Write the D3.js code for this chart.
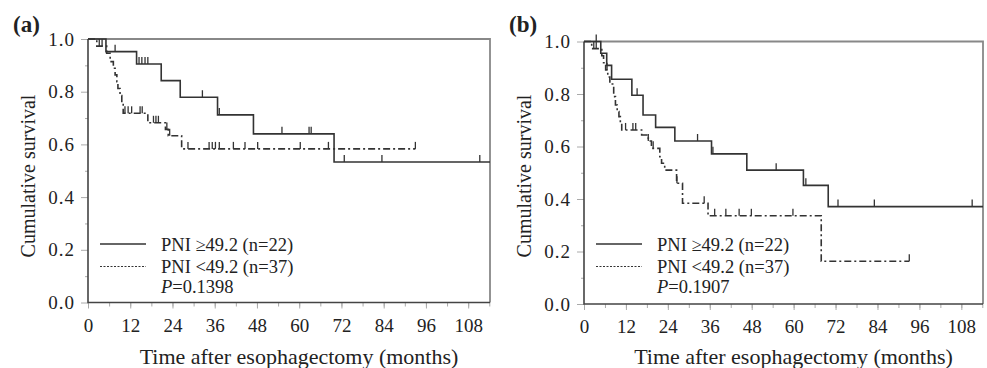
<!DOCTYPE html>
<html>
<head>
<meta charset="utf-8">
<script src="https://cdn.jsdelivr.net/npm/d3@7"></script>
<style>
body { margin: 0; background: #fff; }
text { font-family: "Liberation Serif", "Times New Roman", serif; fill: #222; }
</style>
</head>
<body>
<svg id="chart" width="987" height="368"></svg>
<script>
// Data ---------- ---------- ----------
let xTickLabels = [0, 12, 24, 36, 48, 60, 72, 84, 96, 108];
let xMinorTicks = d3.range(0, 115, 6);
let yTickLabels = [0, 0.2, 0.4, 0.6, 0.8, 1.0];
let yMinorTicks = [0.1, 0.3, 0.5, 0.7, 0.9];
let xMax = 114.2;

let legendHigh = "PNI \u226549.2 (n=22)";
let legendLow = "PNI <49.2 (n=37)";

// (a) PNI >= 49.2
let aHighTimes = [0, 5.1, 13.8, 20.8, 26.2, 36.8, 47.0, 69.9];
let aHighSurv  = [1, 0.952, 0.905, 0.842, 0.779, 0.712, 0.640, 0.533];
let aHighCens  = [7.7, 14.5, 15.3, 16.2, 17.0, 32.5, 37.3, 55.1, 62.8, 63.4, 72.8, 83.5, 111.3];
let aHighEnd   = 114.2;
// (a) PNI < 49.2
let aLowTimes = [0, 2.5, 5.3, 6.3, 7.2, 7.7, 8.2, 8.5, 9.1, 9.6, 10.0, 17.0, 22.0, 22.8, 26.6];
let aLowSurv  = [1, 0.973, 0.946, 0.914, 0.889, 0.864, 0.838, 0.812, 0.785, 0.759, 0.718, 0.682, 0.657, 0.633, 0.583];
let aLowCens  = [3.2, 4.0, 10.5, 11.4, 12.4, 14.8, 15.4, 18.6, 19.3, 20.0, 22.4, 23.2, 28.4, 34.4, 35.3, 36.2, 37.3, 41.3, 44.6, 48.2, 60.3, 68.3, 93.0];
let aLowEnd   = 93.0;
let aPValue = "0.1398";

// (b) PNI >= 49.2
let bHighTimes = [0, 4.8, 6.5, 7.9, 13.7, 16.9, 20.5, 26.0, 36.5, 46.6, 62.8, 69.9];
let bHighSurv  = [1, 0.955, 0.909, 0.856, 0.795, 0.720, 0.673, 0.621, 0.572, 0.510, 0.452, 0.371];
let bHighCens  = [3.5, 15.2, 32.5, 36.9, 55.0, 63.5, 72.7, 83.1, 111.1];
let bHighEnd   = 114.2;
// (b) PNI < 49.2
let bLowTimes = [0, 2.2, 5.1, 5.6, 6.2, 6.8, 7.4, 8.5, 9.0, 9.5, 10.0, 10.4, 10.8, 16.5, 18.4, 19.3, 21.7, 22.2, 23.1, 26.5, 28.2, 35.5, 67.9];
let bLowSurv  = [1, 0.973, 0.946, 0.919, 0.892, 0.865, 0.838, 0.790, 0.758, 0.733, 0.714, 0.692, 0.663, 0.644, 0.621, 0.593, 0.561, 0.536, 0.510, 0.460, 0.384, 0.336, 0.163];
let bLowCens  = [2.8, 3.5, 6.6, 11.9, 14.0, 14.8, 18.4, 19.8, 26.6, 34.4, 37.4, 40.6, 44.4, 47.9, 59.8, 93.1];
let bLowEnd   = 93.1;
let bPValue = "0.1907";

// Layout ---------- ---------- ----------
let svg = d3.select("#chart");

let panels = [
    {tag: "(a)", left: 88, right: 490, top: 39, bottom: 302.5, dx: 0,
     high: [aHighTimes, aHighSurv, aHighCens, aHighEnd], low: [aLowTimes, aLowSurv, aLowCens, aLowEnd], p: aPValue},
    {tag: "(b)", left: 584, right: 983, top: 41.5, bottom: 304, dx: 496,
     high: [bHighTimes, bHighSurv, bHighCens, bHighEnd], low: [bLowTimes, bLowSurv, bLowCens, bLowEnd], p: bPValue}
];

panels.forEach(p => drawPanel(p));

function drawPanel(p)
{
    let x = d3.scaleLinear().domain([0, xMax]).range([p.left, p.right]);
    let y = d3.scaleLinear().domain([0, 1]).range([p.bottom, p.top]);
    let g = svg.append("g");

    // frame top / right
    g.append("path")
        .attr("d", "M" + p.left + "," + p.top + "H" + p.right + "V" + p.bottom)
        .attr("fill", "none").attr("stroke", "#888").attr("stroke-width", 1.8);

    // x axis ticks
    g.append("g").attr("transform", "translate(0," + p.bottom + ")")
        .call(d3.axisBottom(x).tickValues(xMinorTicks).tickSize(4).tickFormat(""))
        .call(a => a.select(".domain").remove())
        .call(a => a.selectAll("line").attr("stroke", "#aaa"));
    g.append("g").attr("transform", "translate(0," + p.bottom + ")")
        .call(d3.axisBottom(x).tickValues(xTickLabels).tickSize(6).tickPadding(10))
        .attr("font-size", 19)
        .call(a => a.select(".domain").remove())
        .call(a => a.selectAll("line").attr("stroke", "#aaa"));

    // y axis ticks
    g.append("g").attr("transform", "translate(" + p.left + ",0)")
        .call(d3.axisLeft(y).tickValues(yMinorTicks).tickSize(3).tickFormat(""))
        .call(a => a.select(".domain").remove())
        .call(a => a.selectAll("line").attr("stroke", "#aaa"));
    g.append("g").attr("transform", "translate(" + p.left + ",0)")
        .call(d3.axisLeft(y).tickValues(yTickLabels).tickSize(7).tickPadding(6).tickFormat(d3.format(".1f")))
        .attr("font-size", 19)
        .call(a => a.select(".domain").remove())
        .call(a => a.selectAll("line").attr("stroke", "#aaa"))
        .call(a => a.selectAll("text").attr("letter-spacing", 1));

    // axis lines
    g.append("path")
        .attr("d", "M" + p.left + "," + p.top + "V" + p.bottom + "H" + p.right)
        .attr("fill", "none").attr("stroke", "#444").attr("stroke-width", 1.6);

    // survival curves
    let line = d3.line().x(d => x(d[0])).y(d => y(d[1])).curve(d3.curveStepAfter);
    drawCurve(g, x, y, line, p.high, null);
    drawCurve(g, x, y, line, p.low, "7,3,2,3");

    // legend
    let lx0 = p.left + 12, lx1 = p.left + 58, tx = p.left + 73;
    g.append("line").attr("x1", lx0).attr("x2", lx1).attr("y1", 244).attr("y2", 244)
        .attr("stroke", "#333").attr("stroke-width", 1.4);
    g.append("line").attr("x1", lx0).attr("x2", lx1).attr("y1", 266.5).attr("y2", 266.5)
        .attr("stroke", "#333").attr("stroke-width", 1).attr("stroke-dasharray", "2,1.5");
    g.append("text").attr("x", tx).attr("y", 251).attr("font-size", 18.5).text(legendHigh);
    g.append("text").attr("x", tx).attr("y", 273).attr("font-size", 18.5).text(legendLow);
    let pt = g.append("text").attr("x", tx).attr("y", 292.5).attr("font-size", 18.5);
    pt.append("tspan").attr("font-style", "italic").text("P");
    pt.append("tspan").text("=" + p.p);

    // titles
    g.append("text").attr("x", 13 + p.dx).attr("y", 32).attr("font-size", 23)
        .attr("font-weight", "bold").text(p.tag);
    g.append("text").attr("transform", "translate(" + (35 + p.dx) + "," + 176 + ") rotate(-90)")
        .attr("text-anchor", "middle").attr("font-size", 20).text("Cumulative survival");
    g.append("text").attr("x", (p.left + p.right) / 2 + 10).attr("y", 364)
        .attr("text-anchor", "middle").attr("font-size", 22).text("Time after esophagectomy (months)");
}

function drawCurve(g, x, y, line, s, dash)
{
    let times = s[0], surv = s[1], cens = s[2], end = s[3];
    let pts = times.map((t, i) => [t, surv[i]]);
    pts.push([end, surv[surv.length - 1]]);
    g.append("path").datum(pts)
        .attr("d", line)
        .attr("fill", "none").attr("stroke", "#333").attr("stroke-width", 1.6)
        .attr("stroke-dasharray", dash);
    let survAt = t => surv[Math.max(0, d3.bisectRight(times, t) - 1)];
    g.selectAll(null).data(cens).enter().append("line")
        .attr("x1", d => x(d)).attr("x2", d => x(d))
        .attr("y1", d => y(survAt(d))).attr("y2", d => y(survAt(d)) - 7)
        .attr("stroke", "#333").attr("stroke-width", 1.3);
}
</script>
</body>
</html>
